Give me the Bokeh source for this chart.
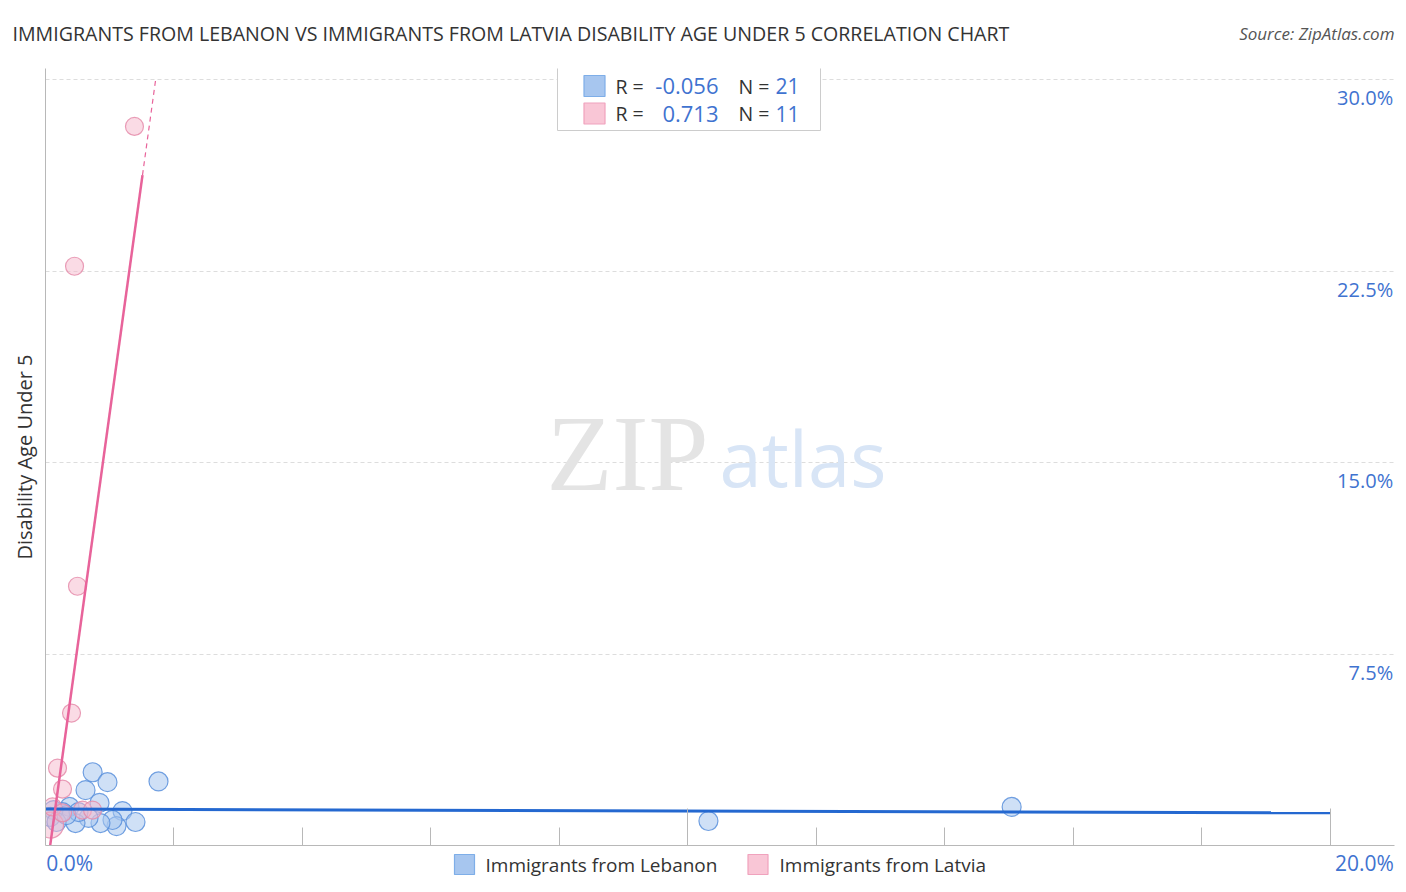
from bokeh.plotting import figure
from bokeh.layouts import column, row
from bokeh.models import (Range1d, FixedTicker, LinearAxis, Grid, CustomJSTickFormatter)
from bokeh.core.properties import value
from bokeh.embed import file_html
from bokeh.resources import INLINE

# ---------------- data ----------------
lebanon_x = [0.734, 0.965, 0.623, 1.759, 0.841, 1.198, 1.401, 1.105, 1.043, 0.856, 0.670,
             0.467, 0.374, 0.265, 0.125, 0.078, 0.514, 10.32, 15.04, 0.171, 0.327]
lebanon_y = [2.87, 2.48, 2.17, 2.51, 1.67, 1.35, 0.92, 0.76, 1.00, 0.88, 1.08,
             0.88, 1.51, 1.31, 1.39, 1.12, 1.31, 0.96, 1.51, 0.92, 1.19]
latvia_x = [1.385, 0.452, 0.498, 0.405, 0.187, 0.265, 0.078, 0.109, 0.576, 0.732, 0.265]
latvia_y = [28.18, 22.70, 10.16, 5.19, 3.03, 2.21, 0.80, 1.51, 1.39, 1.39, 1.28]
latvia_size = [18, 18, 18, 18, 18, 18, 26, 18, 18, 18, 18]

lebanon_trend = (1.43, -0.0075)     # intercept, slope
latvia_trend = (-1.33, 18.28)
lebanon_trend_x = [0.0, 20.0]
latvia_solid_x = [0.07, 1.51]
latvia_dash_x = [1.51, 1.72]

stats_r = ["-0.056", "0.713"]
stats_n = ["21", "11"]
series_names = ["Immigrants from Lebanon", "Immigrants from Latvia"]

y_ticks = [7.5, 15.0, 22.5, 30.0]
y_tick_labels = ["7.5%", "15.0%", "22.5%", "30.0%"]
x_minor_ticks = [2, 4, 6, 8, 12, 14, 16, 18]
x_major_ticks = [10, 20]
x_tick_labels = ["0.0%", "20.0%"]

title_text = "IMMIGRANTS FROM LEBANON VS IMMIGRANTS FROM LATVIA DISABILITY AGE UNDER 5 CORRELATION CHART"
source_text = "Source: ZipAtlas.com"

# ---------------- styling ----------------
FONT = "Open Sans"
BLUE_FILL, BLUE_LINE = "#a7c6ef", "#5b90dc"
PINK_FILL, PINK_LINE = "#f6b8cb", "#e58caa"
BLUE_TREND, PINK_TREND = "#2468d0", "#e8639a"
LABEL_BLUE = "#3f73d0"
TEXT = "#333333"
W = 1404
BL, BR = 45, W - 1394      # main frame spans page x 45..1394

X0, X1 = 0.0, 21.0
Y0, Y1 = 0.0, 30.45
x_range = Range1d(X0, X1)

# page pixel -> data helpers (main frame spans page x 45..1394, y 68..845)
def px2x(px):
    return X0 + (px - 45) * (X1 - X0) / 1349.0

def py2y(py):
    return Y0 + (845 - py) * (Y1 - Y0) / 777.0

# ---------------- header (title + source) ----------------
HEAD_H = 60
head = figure(width=W, height=HEAD_H, output_backend="svg", toolbar_location=None,
              x_range=Range1d(0, W), y_range=Range1d(HEAD_H, 0),
              min_border=0, x_axis_type=None, y_axis_type=None)
head.outline_line_color = None
head.xgrid.visible = False
head.ygrid.visible = False
head.text(x=[12], y=[33], text=[title_text], text_align="left", text_baseline="middle",
          text_font=value(FONT), text_font_size="19.6px", text_color=TEXT)
head.text(x=[1394], y=[33], text=[source_text], text_align="right", text_baseline="middle",
          text_font=value(FONT), text_font_size="17px", text_font_style="italic",
          text_color="#555555")

# ---------------- main plot ----------------
MAIN_BOTTOM = 3
p = figure(width=W, height=8 + 777 + MAIN_BOTTOM, output_backend="svg", toolbar_location=None,
           x_range=x_range, y_range=Range1d(Y0, Y1),
           min_border_left=BL, min_border_right=BR, min_border_top=8, min_border_bottom=MAIN_BOTTOM,
           x_axis_type=None, y_axis_type=None)
p.outline_line_color = None

empty_fmt = CustomJSTickFormatter(code="return ''")

xaxis = LinearAxis(ticker=FixedTicker(ticks=x_major_ticks, minor_ticks=x_minor_ticks),
                   formatter=empty_fmt)
xaxis.axis_line_color = "#b8b8b8"
xaxis.major_tick_line_color = "#b8b8b8"
xaxis.minor_tick_line_color = "#b8b8b8"
xaxis.major_tick_in = 37
xaxis.major_tick_out = 0
xaxis.minor_tick_in = 18
xaxis.minor_tick_out = 0
xaxis.major_label_text_font_size = "0px"
xaxis.major_label_standoff = 0
p.add_layout(xaxis, "below")

yaxis = LinearAxis(ticker=FixedTicker(ticks=y_ticks, minor_ticks=[]), formatter=empty_fmt)
yaxis.axis_line_color = "#b8b8b8"
yaxis.major_tick_line_color = None
yaxis.minor_tick_line_color = None
yaxis.major_label_text_font_size = "0px"
yaxis.major_label_standoff = 0
yaxis.axis_label = "Disability Age Under 5"
yaxis.axis_label_text_font = FONT
yaxis.axis_label_text_font_size = "20px"
yaxis.axis_label_text_font_style = "normal"
yaxis.axis_label_text_color = TEXT
yaxis.axis_label_standoff = 2
p.add_layout(yaxis, "left")

p.xgrid.visible = False
p.ygrid.visible = False
p.add_layout(Grid(dimension=1, ticker=yaxis.ticker, grid_line_color="#dddddd",
                  grid_line_dash="4 3", grid_line_width=1))

# right tick labels inside the frame
p.text(x=[X1 - 0.02] * len(y_ticks), y=y_ticks, text=y_tick_labels,
       text_align="right", text_baseline="middle", y_offset=18,
       text_font=value(FONT), text_font_size="20px", text_color=LABEL_BLUE)

# watermark
p.text(x=[px2x(708)], y=[py2y(453)], text=["ZIP"], text_align="right",
       text_baseline="middle", text_font=value("Liberation Serif"),
       text_font_size="108px", text_color="#e4e4e4")
p.text(x=[px2x(719)], y=[py2y(457)], text=["atlas"], text_align="left",
       text_baseline="middle", text_font=value(FONT),
       text_font_size="76px", text_color="#d8e5f6")

# points
p.scatter(lebanon_x, lebanon_y, size=19, fill_color=BLUE_FILL, fill_alpha=0.55,
          line_color=BLUE_LINE, line_alpha=0.85, line_width=1.2)
p.scatter(latvia_x, latvia_y, size=latvia_size, fill_color=PINK_FILL, fill_alpha=0.5,
          line_color=PINK_LINE, line_alpha=0.85, line_width=1.2)

# trend lines
b0, b1 = lebanon_trend
p.line(lebanon_trend_x, [b0 + b1 * x for x in lebanon_trend_x], line_color=BLUE_TREND, line_width=3)
a0, a1 = latvia_trend
p.line(latvia_solid_x, [a0 + a1 * x for x in latvia_solid_x], line_color=PINK_TREND, line_width=2.5)
p.line(latvia_dash_x, [a0 + a1 * x for x in latvia_dash_x], line_color=PINK_TREND,
       line_width=1.2, line_dash="5 4")

# top stats box
p.quad(left=[px2x(557)], right=[px2x(820)], top=[py2y(67)], bottom=[py2y(130)],
       fill_color="white", line_color="#cccccc", line_width=1)
row_y = [py2y(85.5), py2y(113)]
p.rect(x=[px2x(594)] * 2, y=row_y, width=21, height=21, width_units="screen",
       height_units="screen", fill_color=[BLUE_FILL, "#f9c6d6"], line_color=["#7eaee8", "#f0a2bd"],
       line_width=1.2)
p.text(x=[px2x(615)] * 2, y=row_y, text=["R = ", "R = "], text_align="left", text_baseline="middle",
       text_font=value(FONT), text_font_size="19.5px", text_color=TEXT)
p.text(x=[px2x(718)] * 2, y=row_y, text=stats_r, text_align="right", text_baseline="middle",
       text_font=value(FONT), text_font_size="22px", text_color=LABEL_BLUE)
p.text(x=[px2x(738)] * 2, y=row_y, text=["N = ", "N = "], text_align="left", text_baseline="middle",
       text_font=value(FONT), text_font_size="19.5px", text_color=TEXT)
p.text(x=[px2x(775)] * 2, y=row_y, text=stats_n, text_align="left", text_baseline="middle",
       text_font=value(FONT), text_font_size="21px", text_color=LABEL_BLUE)

# ---------------- footer (x tick labels + series legend) ----------------
FOOT_TOP = 8 + 777 + MAIN_BOTTOM + HEAD_H      # page y of footer top
FOOT_H = 36
foot = figure(width=W, height=FOOT_H, output_backend="svg", toolbar_location=None,
              x_range=x_range, y_range=Range1d(FOOT_H, 0),
              min_border_left=BL, min_border_right=BR, min_border_top=0, min_border_bottom=0,
              x_axis_type=None, y_axis_type=None)
foot.outline_line_color = None
foot.xgrid.visible = False
foot.ygrid.visible = False
foot.text(x=[X0 + 0.01, X1 - 0.01], y=[862.5 - FOOT_TOP] * 2, text=x_tick_labels,
          text_align=["left", "right"], text_baseline="middle", text_font=value(FONT),
          text_font_size="21px", text_color=LABEL_BLUE)
foot.rect(x=[px2x(464), px2x(757.5)], y=[864 - FOOT_TOP] * 2, width=20, height=20,
          width_units="screen", height_units="screen", fill_color=[BLUE_FILL, "#f9c6d6"],
          line_color=["#7eaee8", "#f0a2bd"], line_width=1.2)
foot.text(x=[px2x(485), px2x(779)], y=[864 - FOOT_TOP] * 2, text=series_names, text_align="left",
          text_baseline="middle", text_font=value(FONT), text_font_size="19px", text_color=TEXT)

layout = column(row(head), p, foot, spacing=0)
open("out.html", "w").write(file_html(layout, INLINE))
